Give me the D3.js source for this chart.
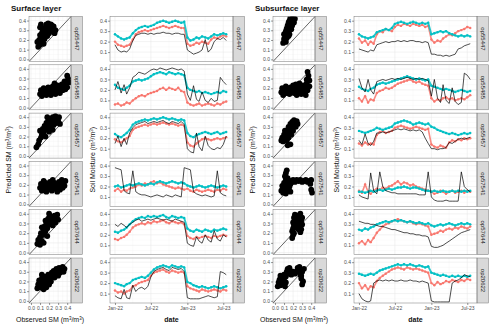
<!DOCTYPE html>
<html>
<head>
<meta charset="utf-8">
<script src="https://cdn.jsdelivr.net/npm/d3@7/dist/d3.min.js"></script>
<style>
  body { margin: 0; background: #fff; }
  svg text { font-family: "Liberation Sans", Arial, sans-serif; }
</style>
</head>
<body>
<svg id="chart" width="500" height="330"></svg>
<script>
// facet rows
var stations = ["op55447", "op55485", "op55457", "op57541", "op57644", "op20622"];

// half-monthly dates of the time series
var dates = [
  "2022-01-01","2022-01-16","2022-02-01","2022-02-16","2022-03-01","2022-03-16",
  "2022-04-01","2022-04-16","2022-05-01","2022-05-16","2022-06-01","2022-06-16",
  "2022-07-01","2022-07-16","2022-08-01","2022-08-16","2022-09-01","2022-09-16",
  "2022-10-01","2022-10-16","2022-11-01","2022-11-16","2022-12-01","2022-12-16",
  "2023-01-01","2023-01-16","2023-02-01","2023-02-16","2023-03-01","2023-03-16",
  "2023-04-01","2023-04-16","2023-05-01","2023-05-16","2023-06-01","2023-06-16",
  "2023-07-01","2023-07-16"
];

var dateTicks = ["2022-01-01", "2022-07-01", "2023-01-01", "2023-07-01"];
var smTicksScatter = [0, 0.1, 0.2, 0.3, 0.4];
var smTicksSeries = [0.1, 0.2, 0.3, 0.4];

// soil moisture, in hundredths of m3/m3, one row per station
var surfObs = [
  [17,12,10,11,10,13,21,26,27,28,28,27,28,27,28,28,29,28,28,27,28,28,27,27,12,10,8,9,10,12,22,10,13,20,23,22,24,21],
  [20,28,17,25,16,22,32,34,37,36,35,37,39,40,39,41,40,39,40,41,40,39,40,38,16,10,24,11,9,18,10,8,12,9,10,32,28,25],
  [15,22,12,20,14,25,30,33,34,35,36,34,35,36,35,36,37,35,34,36,35,34,36,33,10,7,6,25,12,8,22,13,10,9,11,10,14,22],
  [38,37,36,16,14,13,35,15,13,12,12,11,10,11,12,11,10,12,11,10,12,11,10,38,37,36,15,13,12,11,12,11,10,11,35,14,12,11],
  [30,28,31,29,27,30,32,34,35,33,34,35,34,35,36,35,34,35,34,33,35,34,33,32,12,10,9,18,14,12,20,15,13,24,16,14,20,18],
  [8,6,5,14,6,5,18,12,15,16,14,17,26,31,33,34,35,33,32,35,34,33,34,31,6,5,5,5,5,6,7,8,7,6,7,31,30,28]
];
var surfRed = [
  [20,17,16,15,16,17,22,27,29,30,31,30,31,32,33,34,35,34,33,34,35,34,33,33,18,16,17,19,18,20,19,18,22,24,23,25,26,25],
  [6,7,5,6,8,7,10,12,14,15,14,16,17,18,19,21,22,20,22,21,20,22,19,18,8,6,5,6,7,5,6,7,6,5,7,6,8,9],
  [19,17,16,18,20,22,28,30,31,32,33,32,33,34,33,34,35,34,33,34,33,32,33,32,16,13,12,15,17,19,20,19,18,19,20,19,20,21],
  [16,18,15,17,16,18,19,20,22,21,23,22,24,25,23,24,22,21,20,19,18,19,18,17,18,16,15,17,16,15,16,17,16,15,17,16,18,17],
  [16,15,17,18,20,23,27,29,30,31,30,32,31,33,32,33,34,32,31,33,32,31,32,30,19,17,16,18,17,18,19,18,17,19,18,19,20,19],
  [13,11,12,10,12,13,17,18,20,21,22,23,27,30,31,32,33,31,30,32,31,30,31,30,17,15,14,13,12,14,13,12,13,14,13,12,14,13]
];
var surfCyan = [
  [27,25,23,22,23,24,28,31,33,34,35,34,35,36,38,39,40,39,38,39,40,39,38,39,24,21,22,24,23,25,24,23,25,27,26,27,28,27],
  [25,22,21,20,22,24,28,29,30,29,30,31,33,35,36,37,36,35,37,36,35,36,35,34,22,20,19,18,19,17,18,17,16,17,18,17,19,18],
  [24,22,21,23,25,28,33,35,36,37,38,37,38,39,38,39,40,39,38,39,38,37,38,37,25,22,21,23,24,25,26,25,24,25,26,24,25,26],
  [20,21,19,20,21,22,21,22,23,22,21,22,23,22,24,25,24,23,24,25,24,23,24,23,21,20,19,20,21,20,19,20,21,20,19,20,21,20],
  [23,22,24,25,27,30,33,35,36,37,36,38,37,38,37,38,39,37,36,38,37,36,37,36,26,24,23,25,24,23,25,24,23,25,24,25,26,25],
  [20,19,18,17,19,20,23,24,25,26,25,27,30,33,35,36,37,36,35,37,36,35,36,35,21,20,18,17,16,17,16,15,16,17,16,15,16,17]
];
var subObs = [
  [13,12,11,10,12,11,17,18,19,20,19,20,20,21,20,21,20,21,21,20,20,19,20,19,8,8,7,7,6,7,6,7,8,13,14,16,17,18],
  [31,22,18,30,20,16,28,29,30,29,30,31,30,31,30,31,32,31,30,31,30,31,30,29,14,30,12,8,25,10,7,22,9,6,8,36,34,30],
  [18,14,24,15,13,17,25,25,26,25,26,27,28,29,28,29,28,27,28,27,28,26,20,15,10,10,9,10,10,11,16,15,17,19,20,19,20,21],
  [12,10,9,8,33,16,13,34,20,16,15,14,14,13,13,13,13,13,13,13,12,12,12,34,10,7,6,6,6,7,6,6,6,6,34,20,17,15],
  [33,32,31,31,30,30,29,28,28,27,26,25,25,24,23,22,22,21,21,20,20,19,19,18,9,8,8,9,10,12,14,16,18,20,22,23,24,25],
  [10,5,3,2,3,20,22,23,22,23,22,23,22,22,23,22,22,23,22,22,21,22,21,20,3,2,2,2,2,2,2,20,22,23,25,28,27,26]
];
var subRed = [
  [23,19,21,17,20,18,27,30,29,32,31,30,34,36,35,37,36,35,37,36,35,36,34,35,22,19,21,20,23,25,27,26,28,30,31,32,34,33],
  [12,9,14,8,11,10,17,19,20,22,21,22,24,26,27,28,29,30,28,27,28,26,25,24,12,9,11,10,12,13,11,12,10,11,12,11,13,15],
  [15,13,16,14,15,14,23,26,27,25,26,27,30,31,32,31,30,29,30,31,30,29,28,29,14,12,11,13,12,11,16,18,17,19,18,20,19,20],
  [16,14,22,15,13,16,18,17,19,18,20,21,23,25,22,24,23,21,22,20,19,18,17,16,15,13,14,16,15,13,15,16,14,15,16,14,16,15],
  [12,14,11,15,13,17,22,25,28,30,31,33,34,35,34,33,32,33,31,30,31,30,29,28,20,21,22,24,23,25,26,25,27,26,28,27,26,28],
  [20,15,18,14,17,16,22,25,27,29,31,33,34,35,34,33,35,34,33,34,33,32,31,30,20,18,21,19,20,22,21,23,22,21,23,22,24,23]
];
var subCyan = [
  [27,25,24,23,24,25,29,30,31,32,31,33,37,38,39,38,37,38,39,38,37,38,37,38,27,28,29,30,29,30,28,27,26,25,26,25,26,25],
  [23,21,20,19,21,22,25,26,27,26,27,28,29,30,31,32,33,32,31,30,31,30,29,30,24,23,22,21,20,21,20,19,18,19,20,19,18,19],
  [27,26,25,26,27,28,30,29,28,29,30,31,34,35,36,37,36,35,33,34,35,34,33,34,31,30,28,27,26,25,24,25,24,23,24,25,24,25],
  [15,15,14,15,16,15,16,17,16,17,18,17,18,19,19,20,19,18,19,19,18,17,16,16,15,16,15,15,16,15,15,16,15,16,15,16,15,16],
  [25,24,26,25,27,28,30,31,32,33,32,33,34,33,34,33,32,33,32,31,32,31,30,31,29,28,29,30,29,30,31,30,29,30,31,30,31,30],
  [29,28,27,28,29,28,30,32,33,34,35,36,37,38,37,38,37,38,37,36,37,36,35,36,30,29,28,27,28,27,26,27,26,27,26,27,26,27]
];

// observed vs predicted clouds, [observed, predicted] in hundredths of m3/m3
var surfScatter = [
  [[8,13],[10,15],[7,18],[9,20],[12,17],[11,22],[13,19],[14,24],[10,25],[12,27],[15,21],[16,26],[13,30],[15,29],[17,31],[18,28],[16,33],[19,34],[20,30],[21,33],[22,36],[19,37],[23,35],[24,32],[25,34],[18,24],[14,16],[20,27],[22,30],[17,36],[10,33],[11,36],[27,30],[26,27]],
  [[10,14],[11,18],[12,12],[13,16],[15,14],[14,20],[17,13],[18,17],[20,15],[19,21],[22,13],[23,18],[25,16],[24,22],[27,14],[28,19],[30,17],[29,23],[32,15],[33,20],[35,18],[34,24],[36,22],[38,19],[37,27],[39,25],[40,21],[41,30],[42,26],[40,33],[26,25]],
  [[6,9],[8,12],[9,16],[11,19],[12,22],[10,26],[13,28],[14,24],[15,31],[16,27],[17,34],[18,30],[19,36],[20,33],[21,38],[22,29],[23,35],[24,40],[25,32],[26,37],[27,41],[28,34],[29,38],[30,36],[31,40],[16,20],[20,25],[24,27],[32,33],[18,40]],
  [[10,17],[11,21],[12,14],[13,19],[15,16],[16,22],[17,13],[18,19],[20,16],[21,23],[22,20],[23,14],[25,18],[26,22],[27,16],[28,20],[30,18],[31,23],[32,15],[33,20],[35,17],[36,22],[37,19],[38,24],[34,25],[14,24],[24,25],[29,13]],
  [[7,9],[8,13],[10,8],[10,16],[12,12],[11,20],[13,18],[14,23],[12,26],[15,27],[16,22],[17,30],[18,25],[16,33],[19,35],[20,29],[21,38],[22,32],[20,40],[23,36],[24,28],[25,33],[26,38],[27,31],[28,36],[29,39],[30,34],[18,17],[14,10]],
  [[7,13],[8,17],[9,21],[10,14],[11,19],[12,23],[13,16],[14,12],[14,21],[15,25],[16,18],[17,14],[18,22],[19,27],[20,17],[21,24],[22,20],[23,29],[24,26],[25,31],[26,24],[27,28],[28,33],[29,30],[30,26],[31,34],[32,29],[34,32],[35,35],[36,30],[37,33],[12,27]]
];
var subScatter = [
  [[9,17],[10,21],[11,19],[12,24],[10,26],[13,22],[12,29],[14,27],[13,32],[15,30],[14,35],[16,33],[15,38],[17,36],[16,40],[18,39],[19,42],[17,43],[20,41],[21,38],[19,35],[18,31],[16,26],[22,42],[20,43],[12,18],[15,24]],
  [[7,16],[8,20],[9,13],[10,18],[12,22],[13,15],[14,19],[16,14],[17,21],[18,17],[20,23],[21,15],[22,19],[24,13],[25,21],[26,17],[28,22],[29,14],[30,19],[31,23],[32,16],[33,20],[34,13],[35,25],[35,29],[36,18],[37,33],[36,37],[38,22],[38,28],[27,25],[23,24]],
  [[7,16],[8,19],[9,15],[10,22],[11,18],[12,25],[13,16],[13,21],[14,27],[15,19],[15,30],[16,24],[17,33],[18,28],[19,35],[18,22],[20,31],[21,37],[22,34],[23,30],[24,36],[25,33],[20,26],[17,12],[14,11],[11,26]],
  [[7,14],[8,19],[9,12],[10,22],[11,16],[12,25],[12,11],[13,20],[14,14],[15,23],[16,18],[17,13],[11,29],[12,32],[13,35],[12,28],[18,24],[20,25],[22,23],[24,25],[26,24],[28,25],[30,23],[32,24],[34,25],[36,23],[38,24],[40,25],[39,21],[41,12],[40,15],[17,21],[14,27]],
  [[19,15],[20,18],[19,22],[21,20],[20,25],[21,28],[20,31],[22,33],[21,36],[22,39],[23,26],[24,30],[26,34],[27,37],[28,40],[27,30],[28,27],[29,33],[30,36],[29,24],[28,21],[30,29],[25,38],[26,24]],
  [[3,15],[4,19],[5,22],[6,16],[7,20],[8,24],[9,17],[10,21],[11,15],[12,25],[10,27],[13,30],[14,33],[15,28],[16,34],[17,31],[18,27],[19,29],[20,30],[22,28],[24,30],[25,34],[26,31],[27,35],[28,27],[29,23],[30,30],[31,20],[32,33],[30,17],[29,26],[6,26],[12,19]]
];

var layers = [
  {ox: 0, title: "Surface layer", obs: surfObs, red: surfRed, cyan: surfCyan, cloud: surfScatter},
  {ox: 244, title: "Subsurface layer", obs: subObs, red: subRed, cyan: subCyan, cloud: subScatter}
];

var svg = d3.select("#chart");
var rowTop = 16.5, rowStep = 48.3, panelH = 45;
var parseDay = d3.utcParse("%Y-%m-%d");
var days = dates.map(parseDay);
var clipCount = 0;
var cyan = "#00BFC4", red = "#F8766D";

function styleAxis(g) {
  g.attr("font-family", null).attr("font-size", null);
  g.select(".domain").remove();
  g.selectAll(".tick line").attr("stroke", "#333").attr("stroke-width", 0.5);
  g.selectAll(".tick text").attr("fill", "#4d4d4d").style("font-size", "5px");
}

// "label (m3/m3)" with raised 3s
function unitTitle(sel, label) {
  sel.append("tspan").text(label + " (m");
  sel.append("tspan").attr("baseline-shift", "super").style("font-size", "4.5px").text("3");
  sel.append("tspan").text("/m");
  sel.append("tspan").attr("baseline-shift", "super").style("font-size", "4.5px").text("3");
  sel.append("tspan").text(")");
}

// panel background, grid, border and the grey strip on the right
function frame(x, y, xMajor, xMinor, yMajor, yMinor, label) {
  var x0 = x.range()[0], x1 = x.range()[1];
  var top = y.range()[1], bot = y.range()[0];
  var g = svg.append("g");
  g.append("rect").attr("x", x0).attr("y", top).attr("width", x1 - x0).attr("height", bot - top)
    .attr("fill", "#fff");
  g.selectAll(".vmin").data(xMinor).enter().append("line")
    .attr("x1", x).attr("x2", x).attr("y1", top).attr("y2", bot)
    .attr("stroke", "#f0f0f0").attr("stroke-width", 0.3);
  g.selectAll(".hmin").data(yMinor).enter().append("line")
    .attr("y1", y).attr("y2", y).attr("x1", x0).attr("x2", x1)
    .attr("stroke", "#f0f0f0").attr("stroke-width", 0.3);
  g.selectAll(".vmaj").data(xMajor).enter().append("line")
    .attr("x1", x).attr("x2", x).attr("y1", top).attr("y2", bot)
    .attr("stroke", "#e6e6e6").attr("stroke-width", 0.5);
  g.selectAll(".hmaj").data(yMajor).enter().append("line")
    .attr("y1", y).attr("y2", y).attr("x1", x0).attr("x2", x1)
    .attr("stroke", "#e6e6e6").attr("stroke-width", 0.5);
  g.append("rect").attr("x", x1).attr("y", top).attr("width", 11.5).attr("height", bot - top)
    .attr("fill", "#d9d9d9").attr("stroke", "#777").attr("stroke-width", 0.5);
  g.append("text")
    .attr("transform", "translate(" + (x1 + 5.75) + "," + ((top + bot) / 2) + ") rotate(90)")
    .attr("text-anchor", "middle").attr("dy", "0.35em")
    .style("font-size", "6px").attr("fill", "#1a1a1a").text(label);
  var id = "clip" + (clipCount++);
  svg.append("clipPath").attr("id", id).append("rect")
    .attr("x", x0).attr("y", top).attr("width", x1 - x0).attr("height", bot - top);
  var inner = svg.append("g").attr("clip-path", "url(#" + id + ")");
  return {inner: inner, border: function() {
    svg.append("rect").attr("x", x0).attr("y", top).attr("width", x1 - x0).attr("height", bot - top)
      .attr("fill", "none").attr("stroke", "#777").attr("stroke-width", 0.5);
  }};
}

layers.forEach(function(L) {
  var ox = L.ox;
  var xs = d3.scaleLinear().domain([-0.022, 0.442]).range([29 + ox, 71 + ox]);
  var xt = d3.scaleUtc()
    .domain([new Date(Date.UTC(2021, 11, 7)), new Date(Date.UTC(2023, 7, 19))])
    .range([110 + ox, 233 + ox]);
  var majorDates = dateTicks.map(parseDay);
  var minorDates = ["2022-04-01", "2022-10-01", "2023-04-01"].map(parseDay);

  svg.append("text").attr("x", 11 + ox).attr("y", 11)
    .style("font-size", "8px").style("font-weight", "bold").attr("fill", "#111").text(L.title);

  stations.forEach(function(st, i) {
    var top = rowTop + rowStep * i;
    var ys = d3.scaleLinear().domain([-0.022, 0.442]).range([top + panelH, top]);
    var yt = d3.scaleLinear().domain([0.01, 0.44]).range([top + panelH, top]);

    // observed vs predicted
    var f = frame(xs, ys, smTicksScatter, [0.05, 0.15, 0.25, 0.35], smTicksScatter, [0.05, 0.15, 0.25, 0.35], st);
    f.inner.selectAll("circle").data(L.cloud[i]).enter().append("circle")
      .attr("cx", function(d) { return xs(d[0] / 100); })
      .attr("cy", function(d) { return ys(d[1] / 100); })
      .attr("r", 2.9).attr("fill", "#000");
    f.inner.append("line")
      .attr("x1", xs(-0.022)).attr("y1", ys(-0.022)).attr("x2", xs(0.442)).attr("y2", ys(0.442))
      .attr("stroke", "#000").attr("stroke-width", 0.6);
    f.border();
    svg.append("g").attr("transform", "translate(" + (29 + ox) + ",0)")
      .call(d3.axisLeft(ys).tickValues(smTicksScatter).tickFormat(d3.format(".1f")).tickSize(2).tickPadding(1))
      .call(styleAxis);

    // time series
    var t = frame(xt, yt, majorDates, minorDates, smTicksSeries, [0.05, 0.15, 0.25, 0.35], st);
    [[L.red[i], red, 1.6], [L.cyan[i], cyan, 1.9]].forEach(function(s) {
      var line = d3.line().x(function(d, k) { return xt(days[k]); }).y(function(d) { return yt(d / 100); });
      t.inner.append("path").datum(s[0]).attr("d", line)
        .attr("fill", "none").attr("stroke", s[1]).attr("stroke-width", s[2]).attr("stroke-opacity", 0.85);
      t.inner.append("g").selectAll("circle").data(s[0]).enter().append("circle")
        .attr("cx", function(d, k) { return xt(days[k]); })
        .attr("cy", function(d) { return yt(d / 100); })
        .attr("r", 1.2).attr("fill", s[1]);
    });
    var obsLine = d3.line().x(function(d, k) { return xt(days[k]); }).y(function(d) { return yt(d / 100); });
    t.inner.append("path").datum(L.obs[i]).attr("d", obsLine)
      .attr("fill", "none").attr("stroke", "#000").attr("stroke-width", 0.7);
    t.border();
    svg.append("g").attr("transform", "translate(" + (110 + ox) + ",0)")
      .call(d3.axisLeft(yt).tickValues(smTicksSeries).tickFormat(d3.format(".1f")).tickSize(2).tickPadding(1))
      .call(styleAxis);

    if (i === stations.length - 1) {
      var bot = top + panelH;
      svg.append("g").attr("transform", "translate(0," + bot + ")")
        .call(d3.axisBottom(xs).tickValues(smTicksScatter).tickFormat(d3.format(".1f")).tickSize(2).tickPadding(1))
        .call(styleAxis);
      svg.append("g").attr("transform", "translate(0," + bot + ")")
        .call(d3.axisBottom(xt).tickValues(majorDates).tickFormat(d3.utcFormat("%b-%y")).tickSize(2).tickPadding(1))
        .call(styleAxis);
    }
  });

  var midY = (rowTop + rowTop + rowStep * 5 + panelH) / 2;
  svg.append("text").attr("transform", "translate(" + (9 + ox) + "," + midY + ") rotate(-90)")
    .attr("text-anchor", "middle").attr("dy", "0.35em").style("font-size", "7px").attr("fill", "#111")
    .call(unitTitle, "Predicted SM");
  svg.append("text").attr("transform", "translate(" + (93 + ox) + "," + midY + ") rotate(-90)")
    .attr("text-anchor", "middle").attr("dy", "0.35em").style("font-size", "7px").attr("fill", "#111")
    .call(unitTitle, "Soil Moisture");
  svg.append("text").attr("x", 50 + ox).attr("y", 322).attr("text-anchor", "middle")
    .style("font-size", "7px").attr("fill", "#111").call(unitTitle, "Observed SM");
  svg.append("text").attr("x", 171.5 + ox).attr("y", 322).attr("text-anchor", "middle")
    .style("font-size", "7px").style("font-weight", "bold").attr("fill", "#111").text("date");
});
</script>
</body>
</html>
